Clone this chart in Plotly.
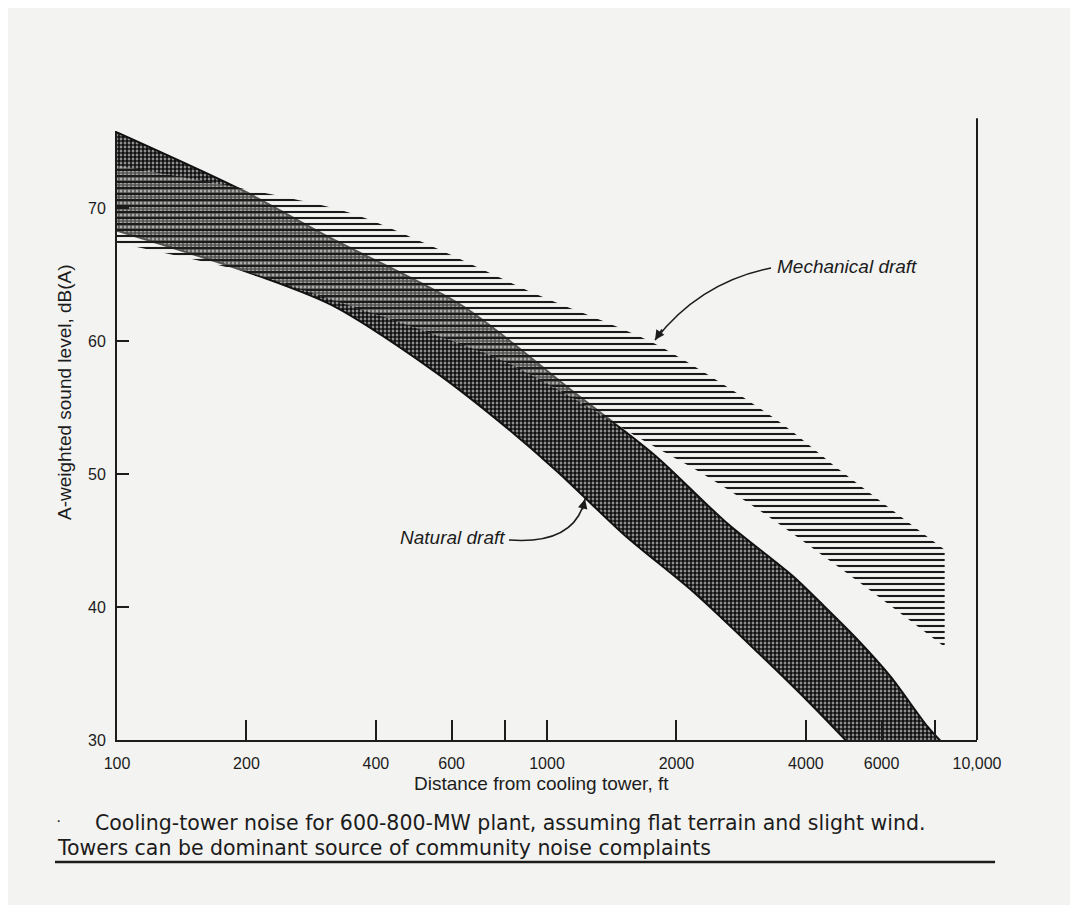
import plotly.graph_objects as go

# ---- data (distance in ft, level in dB(A)) ----
nat_up_x = [100, 194, 316, 639, 1139, 1783, 2603, 3740, 4398, 5256, 6283, 7674, 8300]
nat_up_y = [75.7, 71.4, 67.7, 62.6, 56.3, 51.4, 46.4, 42.3, 40.1, 37.6, 34.8, 31.0, 29.8]
nat_lo_x = [100, 205, 316, 543, 751, 1056, 1516, 2178, 3112, 4076, 5256]
nat_lo_y = [68.3, 65.1, 62.7, 57.8, 54.3, 50.2, 45.4, 41.2, 36.5, 32.8, 29.1]

mech_up_x = [100, 194, 352, 543, 932, 1783, 3412, 4796, 8410]
mech_up_y = [73.2, 71.5, 69.6, 67.1, 63.6, 59.8, 54.1, 50.3, 44.3]
mech_lo_x = [100, 205, 316, 514, 780, 1096, 1662, 2336, 3112, 5256, 8410]
mech_lo_y = [67.4, 65.1, 63.1, 60.8, 58.6, 56.1, 52.6, 49.9, 47.3, 42.0, 37.0]

x_tickvals = [100, 200, 400, 600, 800, 1000, 2000, 4000, 6000, 8000, 10000]
x_ticktext = ["100", "200", "400", "600", "", "1000", "2000", "4000", "6000", "", "10,000"]
y_tickvals = [30, 40, 50, 60, 70]

FONT = "Liberation Sans, Arial, sans-serif"
CAP_FONT = "DejaVu Sans, Liberation Sans, sans-serif"
INK = "#1c1c1c"
PAPER = "#f3f3f1"

fig = go.Figure()

# Natural draft band (stippled) : lower edge, then upper edge filled to it
fig.add_trace(go.Scatter(
    x=nat_lo_x, y=nat_lo_y, mode="lines",
    line=dict(color="#111111", width=2, shape="spline", smoothing=0.8),
    hoverinfo="skip", showlegend=False,
))
fig.add_trace(go.Scatter(
    x=nat_up_x, y=nat_up_y, mode="lines", fill="tonexty",
    line=dict(color="#111111", width=2, shape="spline", smoothing=0.8),
    fillpattern=dict(shape=".", size=4, solidity=0.75, fgcolor="#111111",
                     bgcolor="#c4c4c4", fillmode="replace"),
    hoverinfo="skip", showlegend=False,
))

# Mechanical draft band (horizontal hatching)
fig.add_trace(go.Scatter(
    x=mech_lo_x, y=mech_lo_y, mode="lines",
    line=dict(color="rgba(0,0,0,0)", width=0, shape="spline", smoothing=0.8),
    hoverinfo="skip", showlegend=False,
))
fig.add_trace(go.Scatter(
    x=mech_up_x, y=mech_up_y, mode="lines", fill="tonexty",
    line=dict(color="rgba(0,0,0,0)", width=0, shape="spline", smoothing=0.8),
    fillpattern=dict(shape="-", size=6, solidity=0.35, fgcolor="#1a1a1a",
                     bgcolor="rgba(243,243,241,0.3)", fillmode="replace"),
    hoverinfo="skip", showlegend=False,
))

fig.update_xaxes(
    type="log", range=[2, 4.0], showgrid=False, zeroline=False,
    showline=True, linecolor=INK, linewidth=2,
    tickmode="array", tickvals=x_tickvals, ticktext=x_ticktext,
    ticks="inside", ticklen=20, tickwidth=1.5, tickcolor=INK,
    ticklabelstandoff=8,
    tickfont=dict(family=FONT, size=16, color=INK),
)
fig.update_yaxes(
    range=[30, 75.8], showgrid=False, zeroline=False,
    showline=True, linecolor=INK, linewidth=2,
    tickmode="array", tickvals=y_tickvals,
    ticks="inside", ticklen=12, tickwidth=1.5, tickcolor=INK,
    ticklabelstandoff=6,
    tickfont=dict(family=FONT, size=16, color=INK),
)

shapes = [
    # right frame line (taller than the left one)
    dict(type="line", xref="paper", yref="paper", x0=1, x1=1, y0=0, y1=1.021,
         line=dict(color=INK, width=2)),
    # rule under caption
    dict(type="line", xref="paper", yref="paper", x0=-0.0721, x1=1.021,
         y0=-0.2003, y1=-0.2003, line=dict(color=INK, width=2.5)),
    # curved leader for "Mechanical draft"
    dict(type="path", xref="paper", yref="paper",
         path="M 0.7605 0.775 Q 0.678 0.752 0.6256 0.6568",
         line=dict(color=INK, width=1.6)),
    # curved leader for "Natural draft"
    dict(type="path", xref="paper", yref="paper",
         path="M 0.4558 0.3284 Q 0.5326 0.3202 0.5442 0.3957",
         line=dict(color=INK, width=1.6)),
]

annotations = [
    dict(text="<i>Mechanical draft</i>", xref="paper", yref="paper",
         x=0.765, y=0.7767, xanchor="left", yanchor="middle", showarrow=False,
         font=dict(family=FONT, size=19, color=INK)),
    dict(text="<i>Natural draft</i>", xref="paper", yref="paper",
         x=0.4535, y=0.3333, xanchor="right", yanchor="middle", showarrow=False,
         font=dict(family=FONT, size=19, color=INK)),
    # arrowheads
    dict(text="", xref="paper", yref="paper", x=0.6256, y=0.6568,
         ax=8, ay=-12, showarrow=True, arrowhead=2, arrowsize=1.2,
         arrowwidth=1.6, arrowcolor=INK),
    dict(text="", xref="paper", yref="paper", x=0.5442, y=0.3957,
         ax=-3, ay=12, showarrow=True, arrowhead=2, arrowsize=1.2,
         arrowwidth=1.6, arrowcolor=INK),
    # axis titles
    dict(text="Distance from cooling tower, ft", xref="paper", yref="paper",
         x=0.494, y=-0.0722, xanchor="center", yanchor="middle", showarrow=False,
         font=dict(family=FONT, size=19, color=INK)),
    dict(text="A-weighted sound level, dB(A)", xref="paper", yref="paper",
         x=-0.0616, y=0.5714, xanchor="center", yanchor="middle", showarrow=False,
         textangle=-90, font=dict(family=FONT, size=19, color=INK)),
    # caption
    dict(text="·", xref="paper", yref="paper", x=-0.0686, y=-0.1330,
         xanchor="center", yanchor="middle", showarrow=False,
         font=dict(family=FONT, size=16, color=INK)),
    dict(text="Cooling-tower noise for 600-800-MW plant, assuming flat terrain and slight wind.",
         xref="paper", yref="paper", x=-0.0279, y=-0.1363,
         xanchor="left", yanchor="middle", showarrow=False,
         font=dict(family=CAP_FONT, size=20.5, color=INK)),
    dict(text="Towers can be dominant source of community noise complaints",
         xref="paper", yref="paper", x=-0.0721, y=-0.1775,
         xanchor="left", yanchor="middle", showarrow=False,
         font=dict(family=CAP_FONT, size=20.5, color=INK)),
]

# the page adds an 8 px body margin, so the figure is 8 px smaller and margins shifted
fig.update_layout(
    width=1070, height=897,
    margin=dict(l=109, r=101, t=123, b=165),
    paper_bgcolor=PAPER, plot_bgcolor=PAPER,
    shapes=shapes, annotations=annotations,
    showlegend=False,
)

fig.write_html("out.html")
